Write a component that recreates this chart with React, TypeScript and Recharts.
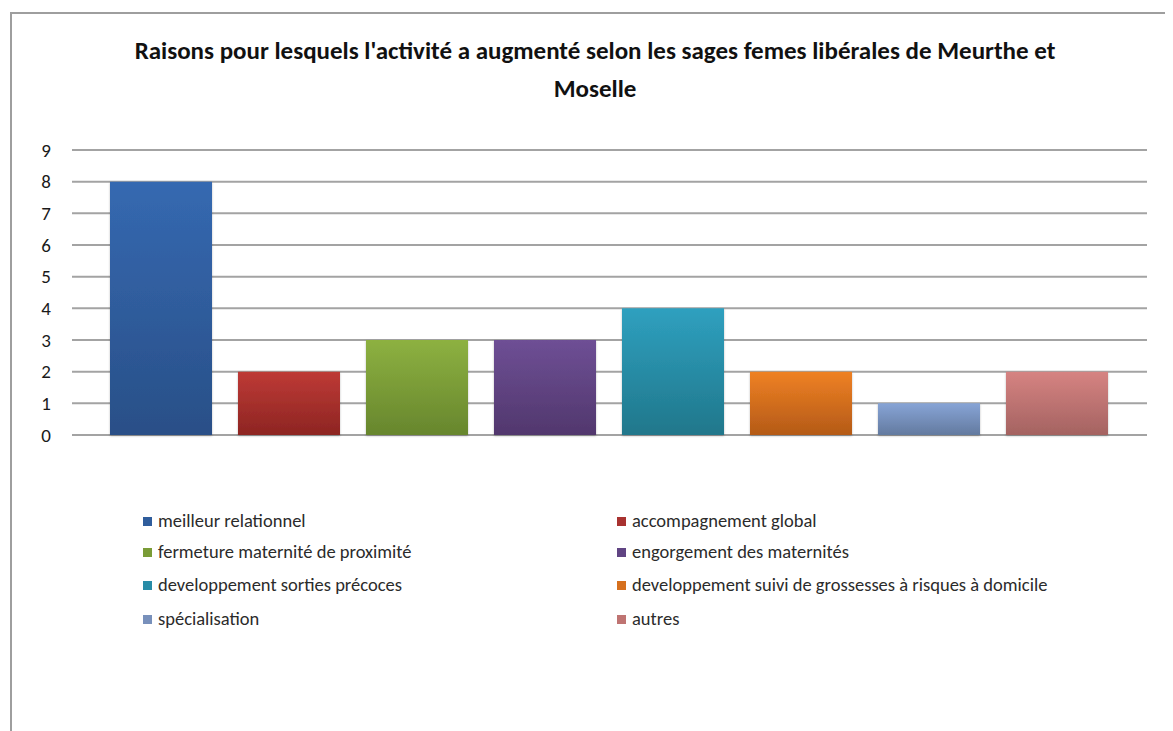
import React from "react";
import { BarChart, Bar, XAxis, YAxis, CartesianGrid } from "recharts";

const reasons = [
  "meilleur relationnel",
  "accompagnement global",
  "fermeture maternité de proximité",
  "engorgement des maternités",
  "developpement sorties précoces",
  "developpement suivi de grossesses à risques à domicile",
  "spécialisation",
  "autres",
];
const counts = [8, 2, 3, 3, 4, 2, 1, 2];
const yTicks = [0, 1, 2, 3, 4, 5, 6, 7, 8, 9];
const titleLines = [
  "Raisons pour lesquels l'activité a augmenté selon les sages femes libérales de Meurthe et",
  "Moselle",
];

const topColors = ["#3569b1", "#be3a36", "#8db141", "#6e4f95", "#2fa0bf", "#ef8124", "#87a4d6", "#d68382"];
const bottomColors = ["#294f87", "#8d2522", "#67862d", "#51376d", "#20778b", "#b45a17", "#637a9f", "#a46361"];
const swatchColors = ["#2f5d9c", "#a83230", "#7a9c37", "#604483", "#288ca7", "#d6701e", "#7890bb", "#bf7472"];

const row: Record<string, number | string> = { name: "" };
reasons.forEach((r, i) => {
  row["s" + i] = counts[i];
});
const data = [row];

const FONT = "Carlito, 'Liberation Sans', Arial, sans-serif";

const LegendBlock = () => (
  <div style={{ position: "absolute", left: 0, top: 503, width: 1165, height: 130, fontFamily: FONT }}>
    {reasons.map((r, i) => {
      const col = i % 2;
      const line = Math.floor(i / 2);
      const ys = [0, 31, 64, 98];
      return (
        <div
          key={r}
          style={{
            position: "absolute",
            left: col === 0 ? 135 : 609,
            top: ys[line],
            display: "flex",
            alignItems: "center",
            height: 20,
            whiteSpace: "nowrap",
          }}
        >
          <span style={{ display: "inline-block", width: 9, height: 9, background: swatchColors[i], marginRight: 6 }} />
          <span style={{ fontSize: 18.5, color: "#2b2b2b", lineHeight: "20px" }}>{r}</span>
        </div>
      );
    })}
  </div>
);

export default function App() {
  return (
    <div style={{ position: "relative", width: 1165, height: 723, background: "#fff", overflow: "hidden" }}>
      <div
        style={{
          position: "absolute",
          left: 2,
          top: 4,
          width: 1200,
          height: 760,
          borderLeft: "2px solid #9e9e9e",
          borderTop: "2px solid #9e9e9e",
        }}
      />
      <BarChart
        width={1165}
        height={723}
        data={data}
        margin={{ top: 142, right: 26, left: 24, bottom: 296 }}
        barGap={26}
        barCategoryGap={38}
        style={{ position: "absolute", left: 0, top: 0 }}
      >
        <defs>
          {reasons.map((r, i) => (
            <linearGradient key={r} id={"grad" + i} x1="0" y1="0" x2="0" y2="1">
              <stop offset="0%" stopColor={topColors[i]} />
              <stop offset="100%" stopColor={bottomColors[i]} />
            </linearGradient>
          ))}
          <filter id="shadow" x="-10%" y="-10%" width="120%" height="120%">
            <feDropShadow dx="0" dy="1" stdDeviation="1.2" floodColor="#000" floodOpacity="0.25" />
          </filter>
        </defs>
        <text
          x={587}
          textAnchor="middle"
          style={{ fontFamily: FONT, fontWeight: 700, fontSize: 25, fill: "#111" }}
        >
          {titleLines.map((t, i) => (
            <tspan key={i} x={587} y={i === 0 ? 51 : 89}>
              {t}
            </tspan>
          ))}
        </text>
        <CartesianGrid vertical={false} stroke="#a3a3a3" strokeWidth={2} />
        <XAxis dataKey="name" hide />
        <YAxis
          domain={[0, 9]}
          ticks={yTicks}
          interval={0}
          width={40}
          axisLine={false}
          tickLine={false}
          tickMargin={15}
          tick={{ fontSize: 19, fill: "#1a1a1a", fontFamily: FONT }}
        />
        {reasons.map((r, i) => (
          <Bar
            key={r}
            dataKey={"s" + i}
            name={r}
            fill={`url(#grad${i})`}
            filter="url(#shadow)"
            isAnimationActive={false}
          />
        ))}
      </BarChart>
      <LegendBlock />
    </div>
  );
}
